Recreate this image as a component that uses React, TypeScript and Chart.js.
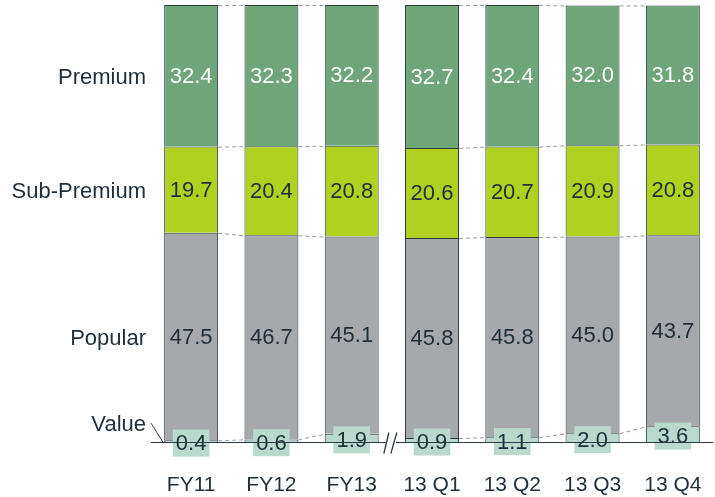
import { useEffect, useRef } from "react";
import { Chart, registerables } from "chart.js";

Chart.register(...registerables);

// Share of volume by segment (%), annual then quarterly
const categories = ["FY11", "FY12", "FY13", "13 Q1", "13 Q2", "13 Q3", "13 Q4"];
const valueShare = [0.4, 0.6, 1.9, 0.9, 1.1, 2.0, 3.6];
const popularShare = [47.5, 46.7, 45.1, 45.8, 45.8, 45.0, 43.7];
const subPremiumShare = [19.7, 20.4, 20.8, 20.6, 20.7, 20.9, 20.8];
const premiumShare = [32.4, 32.3, 32.2, 32.7, 32.4, 32.0, 31.8];
const segmentNames = ["Value", "Popular", "Sub-Premium", "Premium"];
// index of the last annual column; the axis is broken after it
const lastAnnualIndex = 2;

const FONT = "'Liberation Sans', Arial, sans-serif";
const TEXT = "#1f2e3b";
const EDGE = "#2b3a45";

const segmentPlugin = {
  id: "segmentDecor",
  afterDatasetsDraw(chart: any) {
    const ctx = chart.ctx as CanvasRenderingContext2D;
    const area = chart.chartArea;
    const xs = chart.scales.x;
    const metas = [0, 1, 2, 3].map((i) => chart.getDatasetMeta(i));
    const n = categories.length;
    ctx.save();

    // dashed connectors between neighbouring columns at every segment edge
    ctx.strokeStyle = "#9c9c9c";
    ctx.lineWidth = 1;
    ctx.setLineDash([4, 3]);
    for (let i = 0; i < n - 1; i++) {
      if (i === lastAnnualIndex) continue;
      for (let d = 0; d < 4; d++) {
        const a = metas[d].data[i];
        const b = metas[d].data[i + 1];
        ctx.beginPath();
        ctx.moveTo(a.x + a.width / 2, a.y + 0.5);
        ctx.lineTo(b.x - b.width / 2, b.y + 0.5);
        ctx.stroke();
      }
    }
    ctx.setLineDash([]);

    // segment values
    ctx.textAlign = "center";
    ctx.textBaseline = "middle";
    ctx.font = `22px ${FONT}`;
    for (let d = 0; d < 4; d++) {
      const data = chart.data.datasets[d].data as number[];
      metas[d].data.forEach((bar: any, i: number) => {
        const txt = data[i].toFixed(1);
        const cy = (bar.y + bar.base) / 2;
        if (d === 0) {
          const w = ctx.measureText(txt).width + 6;
          const h = 27;
          const by = cy + 2;
          ctx.fillStyle = "#bad9cd";
          ctx.fillRect(bar.x - w / 2, by - h / 2, w, h);
          ctx.fillStyle = TEXT;
          ctx.fillText(txt, bar.x, by + 1);
        } else {
          ctx.fillStyle = d === 3 ? "#ffffff" : TEXT;
          ctx.fillText(txt, bar.x, cy + 1);
        }
      });
    }

    // baseline with a break between annual and quarterly columns
    const baseY = Math.round(area.bottom) + 0.5;
    const breakX = (xs.getPixelForValue(lastAnnualIndex) + xs.getPixelForValue(lastAnnualIndex + 1)) / 2;
    ctx.strokeStyle = EDGE;
    ctx.lineWidth = 1.2;
    ctx.beginPath();
    ctx.moveTo(area.left, baseY);
    ctx.lineTo(breakX - 6, baseY);
    ctx.moveTo(breakX + 4, baseY);
    ctx.lineTo(area.right, baseY);
    ctx.stroke();
    ctx.lineWidth = 1.3;
    ctx.beginPath();
    ctx.moveTo(breakX - 8, baseY + 11);
    ctx.lineTo(breakX - 3, baseY - 10);
    ctx.moveTo(breakX - 1, baseY + 11);
    ctx.lineTo(breakX + 5, baseY - 10);
    ctx.stroke();

    // segment names beside the first column
    ctx.textAlign = "right";
    ctx.font = `22px ${FONT}`;
    ctx.fillStyle = TEXT;
    const labelX = area.left - 5;
    for (let d = 1; d < 4; d++) {
      const bar = metas[d].data[0];
      ctx.fillText(segmentNames[d], labelX, (bar.y + bar.base) / 2 + 2);
    }
    const vBar = metas[0].data[0];
    const vY = (vBar.y + vBar.base) / 2 - 17;
    ctx.fillText(segmentNames[0], labelX, vY + 1);
    ctx.lineWidth = 1;
    ctx.beginPath();
    ctx.moveTo(area.left, vY - 1);
    ctx.lineTo(vBar.x - vBar.width / 2 - 1, baseY);
    ctx.stroke();

    // category names
    ctx.textAlign = "center";
    ctx.font = `21px ${FONT}`;
    ctx.fillStyle = TEXT;
    categories.forEach((c, i) => {
      ctx.fillText(c, xs.getPixelForValue(i), 485);
    });

    ctx.restore();
  },
};

export default function App() {
  const ref = useRef<HTMLCanvasElement | null>(null);

  useEffect(() => {
    if (!ref.current) return;
    const border = { top: 1, left: 1, right: 1, bottom: 0 };
    const common = {
      borderColor: EDGE,
      borderWidth: border,
      borderSkipped: false as const,
      categoryPercentage: 1,
      barPercentage: 0.672,
    };
    const chart = new Chart(ref.current, {
      type: "bar",
      data: {
        labels: categories,
        datasets: [
          { label: segmentNames[0], data: valueShare, backgroundColor: "#bad9cd", ...common },
          { label: segmentNames[1], data: popularShare, backgroundColor: "#a7a8ab", ...common },
          { label: segmentNames[2], data: subPremiumShare, backgroundColor: "#b1d121", ...common },
          { label: segmentNames[3], data: premiumShare, backgroundColor: "#6ea579", ...common },
        ],
      },
      options: {
        responsive: false,
        animation: false,
        layout: { padding: { left: 151, right: 2, top: 5, bottom: 55 } },
        plugins: { legend: { display: false }, tooltip: { enabled: false } },
        scales: {
          x: { stacked: true, display: false },
          y: { stacked: true, display: false, min: 0, max: 100 },
        },
      },
      plugins: [segmentPlugin],
    });
    return () => chart.destroy();
  }, []);

  return (
    <div style={{ position: "absolute", left: 0, top: 0, width: 715, height: 497, background: "#fff" }}>
      <canvas ref={ref} width={715} height={497} style={{ display: "block" }} />
    </div>
  );
}
